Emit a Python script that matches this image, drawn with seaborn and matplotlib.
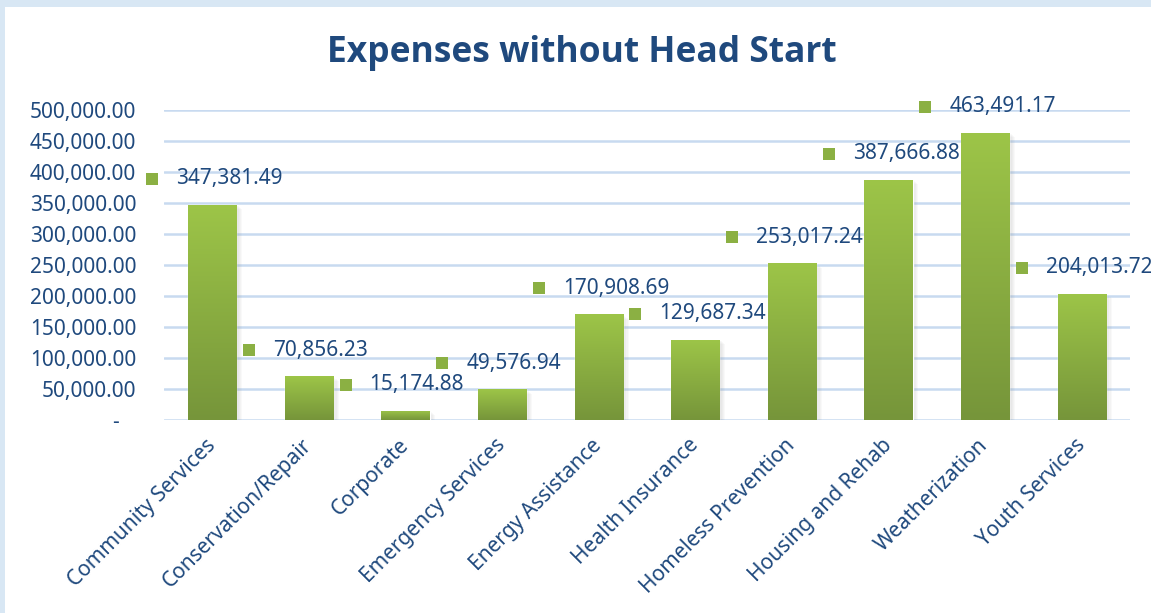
"""
Expenses without Head Start - bar chart with gradient bars and offset data labels.
Saves out.png
"""
import numpy as np
import pandas as pd
import matplotlib
matplotlib.use("Agg")
import matplotlib.pyplot as plt
import matplotlib.transforms as mtransforms
from matplotlib.colors import LinearSegmentedColormap
from matplotlib.patches import Rectangle
import seaborn as sns

categories = ["Community Services", "Conservation/Repair", "Corporate",
              "Emergency Services", "Energy Assistance", "Health Insurance",
              "Homeless Prevention", "Housing and Rehab", "Weatherization",
              "Youth Services"]
expenses = [347381.49, 70856.23, 15174.88, 49576.94, 170908.69,
            129687.34, 253017.24, 387666.88, 463491.17, 204013.72]
y_ticks = [0, 50000, 100000, 150000, 200000, 250000, 300000, 350000, 400000, 450000, 500000]
y_tick_labels = ["-   "] + [f"{t:,.2f}" for t in y_ticks[1:]]

sns.set_theme(style="white")
plt.rcParams["font.family"] = ["Noto Sans", "DejaVu Sans"]

TEXT = "#1f497d"
GRID = "#c8daf0"
bar_cmap = LinearSegmentedColormap.from_list("bar", ["#76953a", "#9dc548"])

df = pd.DataFrame({"category": categories, "expense": expenses})

fig = plt.figure(figsize=(11.51, 6.13), dpi=100)
fig.patch.set_facecolor("#d8e7f4")
fig.add_artist(Rectangle((5 / 1151, 0), 1, 1 - 7 / 613, transform=fig.transFigure,
                         facecolor="white", edgecolor="none", zorder=-5))

ax = fig.add_axes([0.1425, 0.3148, 0.8393, 0.5058])
ax.set_facecolor("none")

sns.barplot(data=df, x="category", y="expense", color="#8db040", saturation=1,
            width=0.5, ax=ax, zorder=3)

# ---------- gradient fill + soft shadow ----------
grad = np.linspace(0, 1, 256).reshape(-1, 1)
for patch in ax.patches:
    x0, w, h = patch.get_x(), patch.get_width(), patch.get_height()
    for k in range(1, 6):
        ax.add_patch(Rectangle((x0 + 0.012 * k, -1500 * k), w, h, facecolor="#7f7f7f",
                               alpha=0.045, edgecolor="none", zorder=2))
    im = ax.imshow(grad, extent=[x0, x0 + w, 0, h], aspect="auto", cmap=bar_cmap,
                   origin="lower", zorder=3.5)
    im.set_clip_path(patch)

ax.set_xlim(-0.5, len(categories) - 0.5)
ax.set_ylim(0, 500000)

# ---------- axes styling ----------
ax.set_yticks(y_ticks)
ax.set_yticklabels(y_tick_labels)
ax.yaxis.grid(True, color=GRID, lw=1.8)
ax.set_axisbelow(True)
for s in ax.spines.values():
    s.set_visible(False)
ax.tick_params(axis="y", length=0, pad=20, labelsize=15, labelcolor=TEXT)
ax.tick_params(axis="x", length=0, pad=16, labelsize=15, labelcolor=TEXT)
for lbl in ax.get_xticklabels():
    lbl.set_rotation(45)
    lbl.set_ha("right")
    lbl.set_va("center")
    lbl.set_rotation_mode("anchor")
ax.set_xlabel("")
ax.set_ylabel("")

# ---------- data labels with square keys ----------
px = 72 / fig.dpi
key_trans = mtransforms.offset_copy(ax.transData, fig=fig, x=0, y=26, units="dots")
label_x = np.arange(len(categories)) - 0.62
ax.scatter(label_x, expenses, marker="s", s=85, color="#8bb043", linewidths=0,
           transform=key_trans, clip_on=False, zorder=6)
for x, v in zip(label_x, expenses):
    ax.annotate(f"{v:,.2f}", xy=(x, v), xytext=(24 * px, 26 * px),
                textcoords="offset points", ha="left", va="center",
                fontsize=15, color=TEXT, annotation_clip=False, zorder=6)

fig.text(0.5056, 0.913, "Expenses without Head Start", ha="center", va="center",
         fontsize=25.5, fontweight="bold", color=TEXT,
         family=["Open Sans", "Lato", "DejaVu Sans"])

fig.savefig("out.png", dpi=100)
